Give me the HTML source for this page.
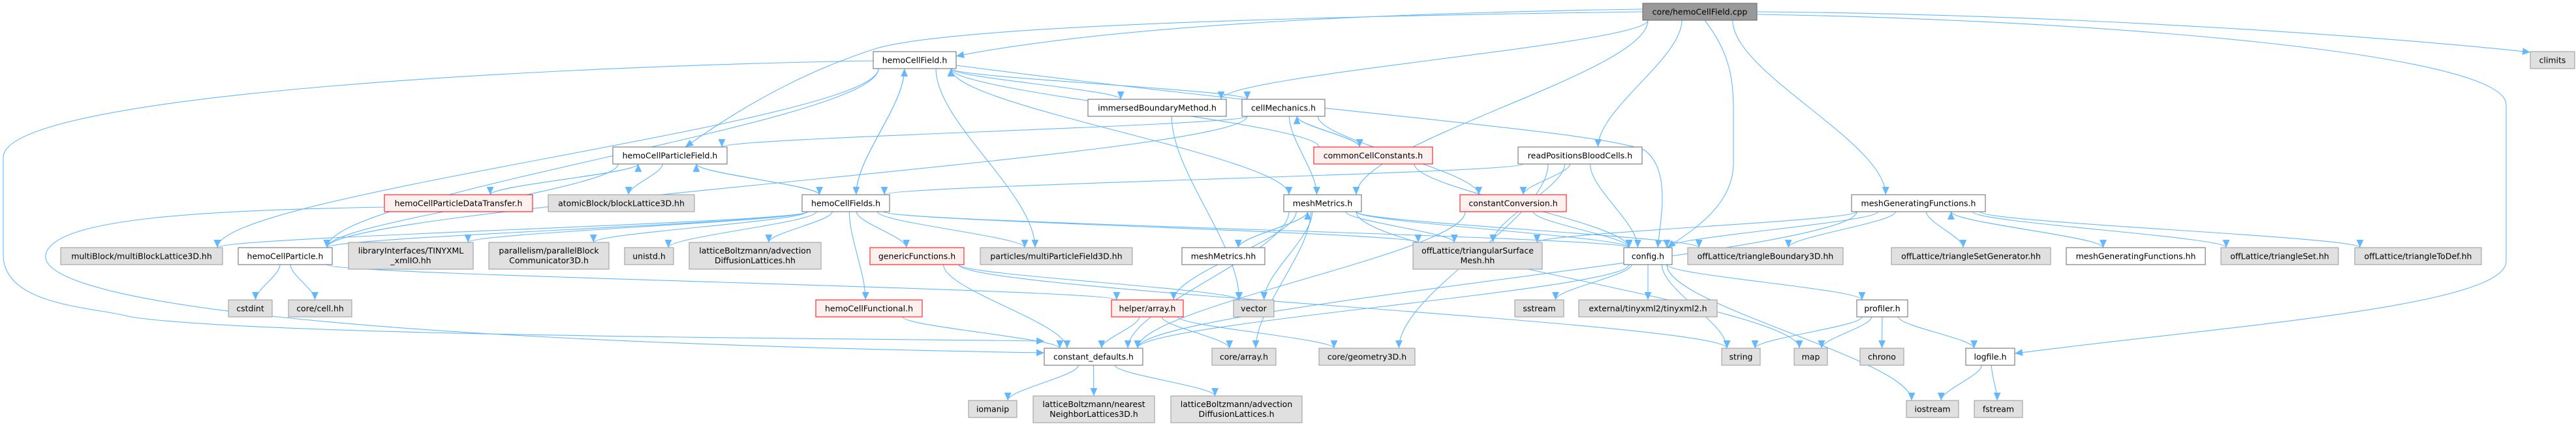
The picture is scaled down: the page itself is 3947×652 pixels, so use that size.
<!DOCTYPE html>
<html><head><meta charset="utf-8"><style>
html,body{margin:0;padding:0;background:#fff;width:3947px;height:652px;overflow:hidden}
svg{display:block}
text{font-family:"DejaVu Sans","Liberation Sans",sans-serif;font-size:12.5px;fill:#000}
</style></head><body>
<svg id="g" width="3947" height="652" viewBox="0 0 3947 652" xmlns="http://www.w3.org/2000/svg">
<defs><marker id="a" viewBox="0 0 10 10" refX="10" refY="5" markerWidth="12" markerHeight="12" markerUnits="userSpaceOnUse" orient="auto"><path d="M0,0.5L10,5L0,9.5z" fill="#63b8ff"/></marker></defs>
<g id="edges" fill="none" stroke="#63b8ff" stroke-width="1.1"></g>
<g id="nodes">
<rect x="2517" y="5" width="175" height="26" fill="#999" stroke="#666"/><text x="2604.5" y="22.5" text-anchor="middle">core/hemoCellField.cpp</text>
<rect x="1338" y="79" width="127" height="26" fill="#fff" stroke="#666"/><text x="1401.5" y="96.5" text-anchor="middle">hemoCellField.h</text>
<rect x="3877" y="79" width="68" height="26" fill="#e0e0e0" stroke="#999"/><text x="3911" y="96.5" text-anchor="middle">climits</text>
<rect x="1667" y="152" width="212" height="26" fill="#fff" stroke="#666"/><text x="1773" y="169.5" text-anchor="middle">immersedBoundaryMethod.h</text>
<rect x="1903" y="152" width="127" height="26" fill="#fff" stroke="#666"/><text x="1966.5" y="169.5" text-anchor="middle">cellMechanics.h</text>
<rect x="939" y="225" width="175" height="26" fill="#fff" stroke="#666"/><text x="1026.5" y="242.5" text-anchor="middle">hemoCellParticleField.h</text>
<rect x="2013" y="225" width="182" height="26" fill="#fff0f0" stroke="#f00"/><text x="2104" y="242.5" text-anchor="middle">commonCellConstants.h</text>
<rect x="2326" y="225" width="190" height="26" fill="#fff" stroke="#666"/><text x="2421" y="242.5" text-anchor="middle">readPositionsBloodCells.h</text>
<rect x="589" y="298" width="227" height="26" fill="#fff0f0" stroke="#f00"/><text x="702.5" y="315.5" text-anchor="middle">hemoCellParticleDataTransfer.h</text>
<rect x="840" y="298" width="224" height="26" fill="#e0e0e0" stroke="#999"/><text x="952" y="315.5" text-anchor="middle">atomicBlock/blockLattice3D.hh</text>
<rect x="1229" y="298" width="134" height="26" fill="#fff" stroke="#666"/><text x="1296" y="315.5" text-anchor="middle">hemoCellFields.h</text>
<rect x="1967" y="298" width="119" height="26" fill="#fff" stroke="#666"/><text x="2026.5" y="315.5" text-anchor="middle">meshMetrics.h</text>
<rect x="2237" y="298" width="163" height="26" fill="#fff0f0" stroke="#f00"/><text x="2318.5" y="315.5" text-anchor="middle">constantConversion.h</text>
<rect x="2837" y="298" width="205" height="26" fill="#fff" stroke="#666"/><text x="2939.5" y="315.5" text-anchor="middle">meshGeneratingFunctions.h</text>
<rect x="93" y="379" width="248" height="26" fill="#e0e0e0" stroke="#999"/><text x="217" y="396.5" text-anchor="middle">multiBlock/multiBlockLattice3D.hh</text>
<rect x="365" y="379" width="144" height="26" fill="#fff" stroke="#666"/><text x="437" y="396.5" text-anchor="middle">hemoCellParticle.h</text>
<rect x="534" y="371" width="191" height="41" fill="#e0e0e0" stroke="#999"/><text x="629.5" y="388" text-anchor="middle">libraryInterfaces/TINYXML</text><text x="629.5" y="403" text-anchor="middle">_xmlIO.hh</text>
<rect x="749" y="371" width="184" height="41" fill="#e0e0e0" stroke="#999"/><text x="841" y="388" text-anchor="middle">parallelism/parallelBlock</text><text x="841" y="403" text-anchor="middle">Communicator3D.h</text>
<rect x="957" y="379" width="75" height="26" fill="#e0e0e0" stroke="#999"/><text x="994.5" y="396.5" text-anchor="middle">unistd.h</text>
<rect x="1056" y="371" width="202" height="41" fill="#e0e0e0" stroke="#999"/><text x="1157" y="388" text-anchor="middle">latticeBoltzmann/advection</text><text x="1157" y="403" text-anchor="middle">DiffusionLattices.hh</text>
<rect x="1333" y="379" width="144" height="26" fill="#fff0f0" stroke="#f00"/><text x="1405" y="396.5" text-anchor="middle">genericFunctions.h</text>
<rect x="1502" y="379" width="233" height="26" fill="#e0e0e0" stroke="#999"/><text x="1618.5" y="396.5" text-anchor="middle">particles/multiParticleField3D.hh</text>
<rect x="1811" y="379" width="127" height="26" fill="#fff" stroke="#666"/><text x="1874.5" y="396.5" text-anchor="middle">meshMetrics.hh</text>
<rect x="2165" y="371" width="198" height="41" fill="#e0e0e0" stroke="#999"/><text x="2264" y="388" text-anchor="middle">offLattice/triangularSurface</text><text x="2264" y="403" text-anchor="middle">Mesh.hh</text>
<rect x="2488" y="379" width="74" height="26" fill="#fff" stroke="#666"/><text x="2525" y="396.5" text-anchor="middle">config.h</text>
<rect x="2586" y="379" width="238" height="26" fill="#e0e0e0" stroke="#999"/><text x="2705" y="396.5" text-anchor="middle">offLattice/triangleBoundary3D.hh</text>
<rect x="2898" y="379" width="244" height="26" fill="#e0e0e0" stroke="#999"/><text x="3020" y="396.5" text-anchor="middle">offLattice/triangleSetGenerator.hh</text>
<rect x="3166" y="379" width="213" height="26" fill="#fff" stroke="#666"/><text x="3272.5" y="396.5" text-anchor="middle">meshGeneratingFunctions.hh</text>
<rect x="3403" y="379" width="180" height="26" fill="#e0e0e0" stroke="#999"/><text x="3493" y="396.5" text-anchor="middle">offLattice/triangleSet.hh</text>
<rect x="3608" y="379" width="194" height="26" fill="#e0e0e0" stroke="#999"/><text x="3705" y="396.5" text-anchor="middle">offLattice/triangleToDef.hh</text>
<rect x="350" y="459" width="67" height="26" fill="#e0e0e0" stroke="#999"/><text x="383.5" y="476.5" text-anchor="middle">cstdint</text>
<rect x="442" y="459" width="97" height="26" fill="#e0e0e0" stroke="#999"/><text x="490.5" y="476.5" text-anchor="middle">core/cell.hh</text>
<rect x="1250" y="459" width="163" height="26" fill="#fff0f0" stroke="#f00"/><text x="1331.5" y="476.5" text-anchor="middle">hemoCellFunctional.h</text>
<rect x="1703" y="459" width="110" height="26" fill="#fff0f0" stroke="#f00"/><text x="1758" y="476.5" text-anchor="middle">helper/array.h</text>
<rect x="1890" y="459" width="62" height="26" fill="#e0e0e0" stroke="#999"/><text x="1921" y="476.5" text-anchor="middle">vector</text>
<rect x="2321" y="459" width="75" height="26" fill="#e0e0e0" stroke="#999"/><text x="2358.5" y="476.5" text-anchor="middle">sstream</text>
<rect x="2419" y="459" width="212" height="26" fill="#e0e0e0" stroke="#999"/><text x="2525" y="476.5" text-anchor="middle">external/tinyxml2/tinyxml2.h</text>
<rect x="2845" y="459" width="78" height="26" fill="#fff" stroke="#666"/><text x="2884" y="476.5" text-anchor="middle">profiler.h</text>
<rect x="1600" y="533" width="151" height="26" fill="#fff" stroke="#666"/><text x="1675.5" y="550.5" text-anchor="middle">constant_defaults.h</text>
<rect x="1857" y="533" width="98" height="26" fill="#e0e0e0" stroke="#999"/><text x="1906" y="550.5" text-anchor="middle">core/array.h</text>
<rect x="2021" y="533" width="147" height="26" fill="#e0e0e0" stroke="#999"/><text x="2094.5" y="550.5" text-anchor="middle">core/geometry3D.h</text>
<rect x="2638" y="533" width="59" height="26" fill="#e0e0e0" stroke="#999"/><text x="2667.5" y="550.5" text-anchor="middle">string</text>
<rect x="2749" y="533" width="51" height="26" fill="#e0e0e0" stroke="#999"/><text x="2774.5" y="550.5" text-anchor="middle">map</text>
<rect x="2850" y="533" width="67" height="26" fill="#e0e0e0" stroke="#999"/><text x="2883.5" y="550.5" text-anchor="middle">chrono</text>
<rect x="3012" y="533" width="75" height="26" fill="#fff" stroke="#666"/><text x="3049.5" y="550.5" text-anchor="middle">logfile.h</text>
<rect x="1484" y="613" width="74" height="26" fill="#e0e0e0" stroke="#999"/><text x="1521" y="630.5" text-anchor="middle">iomanip</text>
<rect x="1583" y="606" width="186" height="41" fill="#e0e0e0" stroke="#999"/><text x="1676" y="623" text-anchor="middle">latticeBoltzmann/nearest</text><text x="1676" y="638" text-anchor="middle">NeighborLattices3D.h</text>
<rect x="1794" y="606" width="201" height="41" fill="#e0e0e0" stroke="#999"/><text x="1894.5" y="623" text-anchor="middle">latticeBoltzmann/advection</text><text x="1894.5" y="638" text-anchor="middle">DiffusionLattices.h</text>
<rect x="2921" y="613" width="80" height="26" fill="#e0e0e0" stroke="#999"/><text x="2961" y="630.5" text-anchor="middle">iostream</text>
<rect x="3025" y="613" width="74" height="26" fill="#e0e0e0" stroke="#999"/><text x="3062" y="630.5" text-anchor="middle">fstream</text>
</g>
</svg>
<script>
var N={cpp:[2517,2692,5,31],hcf:[1338,1465,79,105],climits:[3877,3945,79,105],ibm:[1667,1879,152,178],cm:[1903,2030,152,178],
hcpf:[939,1114,225,251],ccc:[2013,2195,225,251],rpbc:[2326,2516,225,251],hcpdt:[589,816,298,324],abl:[840,1064,298,324],
hcfs:[1229,1363,298,324],mm:[1967,2086,298,324],cc:[2237,2400,298,324],mgf:[2837,3042,298,324],mbl:[93,341,379,405],
hcp:[365,509,379,405],tiny:[534,725,371,412],pbc:[749,933,371,412],unistd:[957,1032,379,405],adlhh:[1056,1258,371,412],
gf:[1333,1477,379,405],mpf:[1502,1735,379,405],mmhh:[1811,1938,379,405],tsm:[2165,2363,371,412],cfg:[2488,2562,379,405],
tb3:[2586,2824,379,405],tsg:[2898,3142,379,405],mgfhh:[3166,3379,379,405],tset:[3403,3583,379,405],ttd:[3608,3802,379,405],
cstdint:[350,417,459,485],cell:[442,539,459,485],hcfn:[1250,1413,459,485],ha:[1703,1813,459,485],vec:[1890,1952,459,485],
sstream:[2321,2396,459,485],tx2:[2419,2631,459,485],prof:[2845,2923,459,485],cd:[1600,1751,533,559],ca:[1857,1955,533,559],
geo:[2021,2168,533,559],str:[2638,2697,533,559],map:[2749,2800,533,559],chrono:[2850,2917,533,559],log:[3012,3087,533,559],
iomanip:[1484,1558,613,639],nn:[1583,1769,606,647],adlh:[1794,1995,606,647],iostream:[2921,3001,613,639],fstream:[3025,3099,613,639]};
var E=[["cpp","mm"],["cpp","rpbc"],["cpp","mgf"],["cpp","ibm"],
["hcf","hcfs"],["hcf","mpf"],["hcf","mm"],["hcf","cm"],["hcf","mbl"],["hcf","hcp"],["hcf","ibm"],
["cm","hcpf"],["cm","hcp"],["cm","mm"],["cm","ccc"],["cm","cc"],["ccc","cm"],["ccc","hcf"],["ccc","cfg"],
["rpbc","hcfs"],["rpbc","tsm"],["rpbc","cc"],["rpbc","cfg"],["rpbc","geo"],
["hcpf","hcpdt"],["hcpf","abl"],["hcpf","hcfs"],["hcpf","hcp"],["hcpdt","hcpf"],
["hcfs","hcf"],["hcfs","hcpf"],["hcfs","tiny"],["hcfs","pbc"],["hcfs","unistd"],["hcfs","adlhh"],["hcfs","gf"],["hcfs","mpf"],["hcfs","hcfn"],["hcfs","hcp"],["hcfs","mbl"],["hcfs","tsm"],["hcfs","cfg"],
["hcp","cstdint"],["hcp","cell"],["hcp","ha"],["gf","cd"],["gf","vec"],["gf","str"],["hcfn","cd"],
["mm","mmhh"],["mm","tsm"],["mm","cfg"],["mm","vec"],["mm","ha"],["mm","ca"],["mm","map"],["mm","tb3"],["mm","cd"],["mmhh","mm"],
["ha","cd"],["ha","ca"],["ha","geo"],["cc","cfg"],["cc","cd"],
["cfg","cd"],["cfg","sstream"],["cfg","tx2"],["cfg","prof"],["cfg","str"],["cfg","iostream"],
["prof","str"],["prof","map"],["prof","chrono"],["prof","log"],["log","iostream"],["log","fstream"],
["cd","iomanip"],["cd","nn"],["cd","adlh"],
["mgf","tsm"],["mgf","tb3"],["mgf","tsg"],["mgf","mgfhh"],["mgf","tset"],["mgf","ttd"],["mgf","cd"],["mgf","cfg"],["mgfhh","mgf"],["ibm","vec"]];
var P=["M2517,18 C2000,25 1450,40 1340,75 C1200,120 1100,190 1050,225",
"M2517,14 C2100,20 1700,40 1465,86",
"M2612,31 C2650,80 2656,120 2656,170 L2656,250 C2656,320 2580,360 2555,379",
"M2692,18 C3200,22 3700,60 3877,80",
"M2692,22 C3200,30 3840,80 3840,160 L3840,400 C3840,470 3400,500 3087,541",
"M1338,93 C900,100 10,140 5,240 L5,390 C5,470 150,470 200,485 C400,515 1300,518 1600,522",
"M589,317 C300,322 80,335 70,390 C60,450 400,520 1600,540",
"M1465,100 C2000,170 2450,200 2520,230 C2560,260 2545,330 2540,379"];
var g=document.getElementById("edges"),ns="http://www.w3.org/2000/svg";
function add(d){var p=document.createElementNS(ns,"path");p.setAttribute("d",d);p.setAttribute("marker-end","url(#a)");g.appendChild(p);}
function cl(v,a,b){return Math.max(a+8,Math.min(b-8,v));}
E.forEach(function(e){var s=N[e[0]],t=N[e[1]];var scx=(s[0]+s[1])/2,tcx=(t[0]+t[1])/2;var sx,sy,tx,ty;
if(t[2]>s[3]){sy=s[3];ty=t[2];sx=cl(scx+(tcx-scx)*0.15,s[0],s[1]);tx=cl(tcx+(scx-tcx)*0.15,t[0],t[1]);}
else if(t[3]<s[2]){sy=s[2];ty=t[3];sx=cl(scx+(tcx-scx)*0.15,s[0],s[1]);tx=cl(tcx+(scx-tcx)*0.15,t[0],t[1]);}
else{sy=(s[2]+s[3])/2;ty=(t[2]+t[3])/2;if(tcx>scx){sx=s[1];tx=t[0];}else{sx=s[0];tx=t[1];}add("M"+sx+","+sy+" L"+tx+","+ty);return;}
var dy=ty-sy;add("M"+sx+","+sy+" C"+sx+","+(sy+dy*0.3)+" "+tx+","+(ty-dy*0.3)+" "+tx+","+ty);});
P.forEach(add);
</script>
</body></html>
